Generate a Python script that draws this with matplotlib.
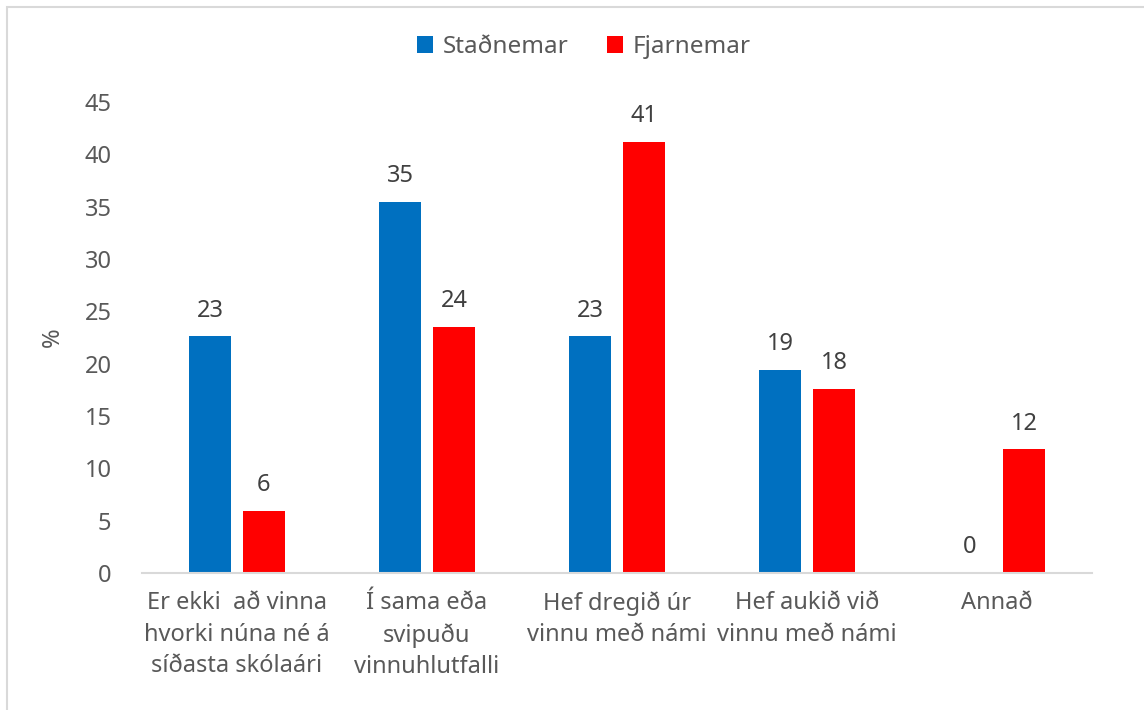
import numpy as np
import matplotlib
matplotlib.use("Agg")
import matplotlib.pyplot as plt
from matplotlib.patches import Rectangle

categories = ["Er ekki  að vinna\nhvorki núna né á\nsíðasta skólaári",
              "Í sama eða\nsvipuðu\nvinnuhlutfalli",
              "Hef dregið úr\nvinnu með námi",
              "Hef aukið við\nvinnu með námi",
              "Annað"]
stadnemar = [22.6, 35.48, 22.6, 19.4, 0.0]
fjarnemar = [5.9, 23.5, 41.2, 17.6, 11.8]
series_names = ["Staðnemar", "Fjarnemar"]
colors = ["#0070c0", "#ff0000"]
txt = "#595959"

plt.rcParams['font.family'] = ['Noto Sans', 'DejaVu Sans']

W, H = 1144, 710
fig = plt.figure(figsize=(W / 100, H / 100), dpi=100)
ax = fig.add_axes([142 / W, 1 - 573 / H, (1092 - 142) / W, (573 - 102) / H])

# chart border
fig.patches.append(Rectangle((7 / W, -0.1), 1.2, 1 - 7 / H + 0.1, transform=fig.transFigure,
                             fill=False, edgecolor="#d9d9d9", linewidth=1.5))

x = np.arange(len(categories))
bw = 0.226
off = 0.142
for vals, sgn, c, name in zip([stadnemar, fjarnemar], [-1, 1], colors, series_names):
    bars = ax.bar(x + sgn * off, vals, width=bw, color=c, label=name)
    for b, v in zip(bars, vals):
        ax.annotate("%d" % round(v), (b.get_x() + b.get_width() / 2, v),
                    xytext=(0, 10), textcoords="offset points",
                    ha="center", va="bottom", fontsize=17, color="#404040")

ax.set_xlim(-0.5, 4.5)
ax.set_ylim(0, 45)
ax.set_yticks(np.arange(0, 46, 5))
ax.set_xticks(x)
ax.set_xticklabels(categories, fontsize=17, color=txt, linespacing=1.42, va="top")
ax.tick_params(axis="y", labelsize=17, labelcolor=txt, length=0, pad=22)
ax.tick_params(axis="x", length=0, pad=13)
for s in ["top", "right", "left"]:
    ax.spines[s].set_visible(False)
ax.spines["bottom"].set_color("#d9d9d9")
ax.spines["bottom"].set_linewidth(1.5)
ax.set_ylabel("%", fontsize=17, color=txt, labelpad=14)

ax.legend(loc="center", bbox_to_anchor=(584 / W, 1 - 47 / H), bbox_transform=fig.transFigure,
          ncol=2, frameon=False, fontsize=17.5, labelcolor=txt,
          handlelength=0.65, handleheight=0.65, handletextpad=0.4, columnspacing=1.6)

fig.savefig("out.png", dpi=100)
